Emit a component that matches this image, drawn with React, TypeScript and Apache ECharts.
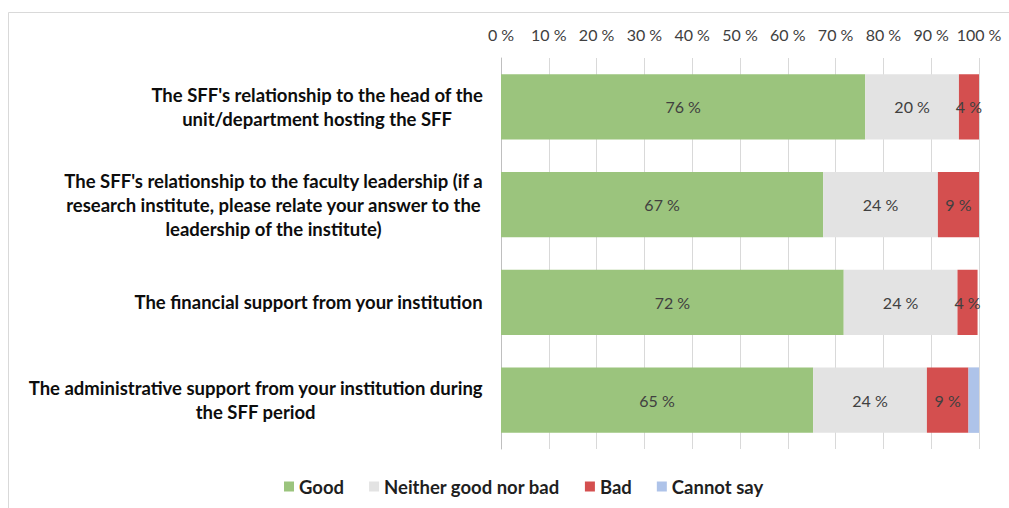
import React, { useEffect, useRef } from "react";
import * as echarts from "echarts";

const categories = [
  "The SFF's relationship to the head of the\nunit/department hosting the SFF",
  "The SFF's relationship to the faculty leadership (if a\nresearch institute, please relate your answer to the\nleadership of the institute)",
  "The financial support from your institution",
  "The administrative support from your institution during\nthe SFF period",
];
const seriesNames = ["Good", "Neither good nor bad", "Bad", "Cannot say"];
const good = [76.2, 67.4, 71.7, 65.3];
const neither = [19.6, 24.0, 23.8, 23.8];
const bad = [4.2, 8.6, 4.2, 8.7];
const cannotSay = [0, 0, 0, 2.2];
const xTicks = [0, 10, 20, 30, 40, 50, 60, 70, 80, 90, 100];

const colors = ["#9bc47d", "#e3e3e3", "#d44f4f", "#aec3e9"];
const FONT = "Lato";

export default function App() {
  const ref = useRef<HTMLDivElement>(null);
  useEffect(() => {
    if (!ref.current) return;
    const chart = echarts.init(ref.current, null, { renderer: "svg" });
    const data = [good, neither, bad, cannotSay];
    chart.setOption({
      animation: false,
      textStyle: { fontFamily: FONT },
      graphic: [
        {
          type: "rect",
          shape: { x: 8.5, y: 12.5, width: 1100, height: 600 },
          style: { fill: "none", stroke: "#d9d9d9", lineWidth: 1 },
          silent: true,
        },
      ],
      legend: {
        data: seriesNames,
        bottom: 7,
        left: 279,
        itemWidth: 10,
        itemHeight: 10,
        itemGap: 25,
        icon: "rect",
        textStyle: { fontFamily: FONT, fontSize: 18.5, fontWeight: "bold", color: "#1f1f1f" },
      },
      grid: { left: 501, right: 30, top: 58, bottom: 59 },
      xAxis: {
        type: "value",
        position: "top",
        min: 0,
        max: 100,
        interval: xTicks[1] - xTicks[0],
        axisLine: { show: false },
        axisTick: { show: false },
        axisLabel: {
          formatter: (v: number) => `${v} %`,
          fontFamily: FONT,
          fontSize: 16,
          color: "#404040",
          margin: 16,
        },
        splitLine: { show: true, lineStyle: { color: "#d9d9d9", width: 1 } },
      },
      yAxis: {
        type: "category",
        data: categories,
        inverse: true,
        axisLine: { show: true, lineStyle: { color: "#bfbfbf", width: 1 } },
        axisTick: { show: false },
        axisLabel: {
          margin: 18,
          formatter: (v: string) => v.split("\n").map((l) => `{c|${l}}`).join("\n"),
          rich: {
            c: {
              align: "center",
              fontFamily: FONT,
              fontSize: 18.5,
              fontWeight: "bold",
              color: "#0d0d0d",
              lineHeight: 24,
            },
          },
        },
      },
      series: seriesNames.map((name, i) => ({
        name,
        type: "bar",
        stack: "total",
        barCategoryGap: "33%",
        itemStyle: { color: colors[i] },
        data: data[i],
        label: {
          show: i < 3,
          position: "inside",
          formatter: (p: any) => `${Math.round(p.value)} %`,
          fontFamily: FONT,
          fontSize: 16,
          color: "#404040",
        },
      })),
    });
    return () => chart.dispose();
  }, []);
  return (
    <div
      ref={ref}
      style={{ position: "absolute", left: 0, top: 0, width: 1009, height: 508 }}
    />
  );
}
